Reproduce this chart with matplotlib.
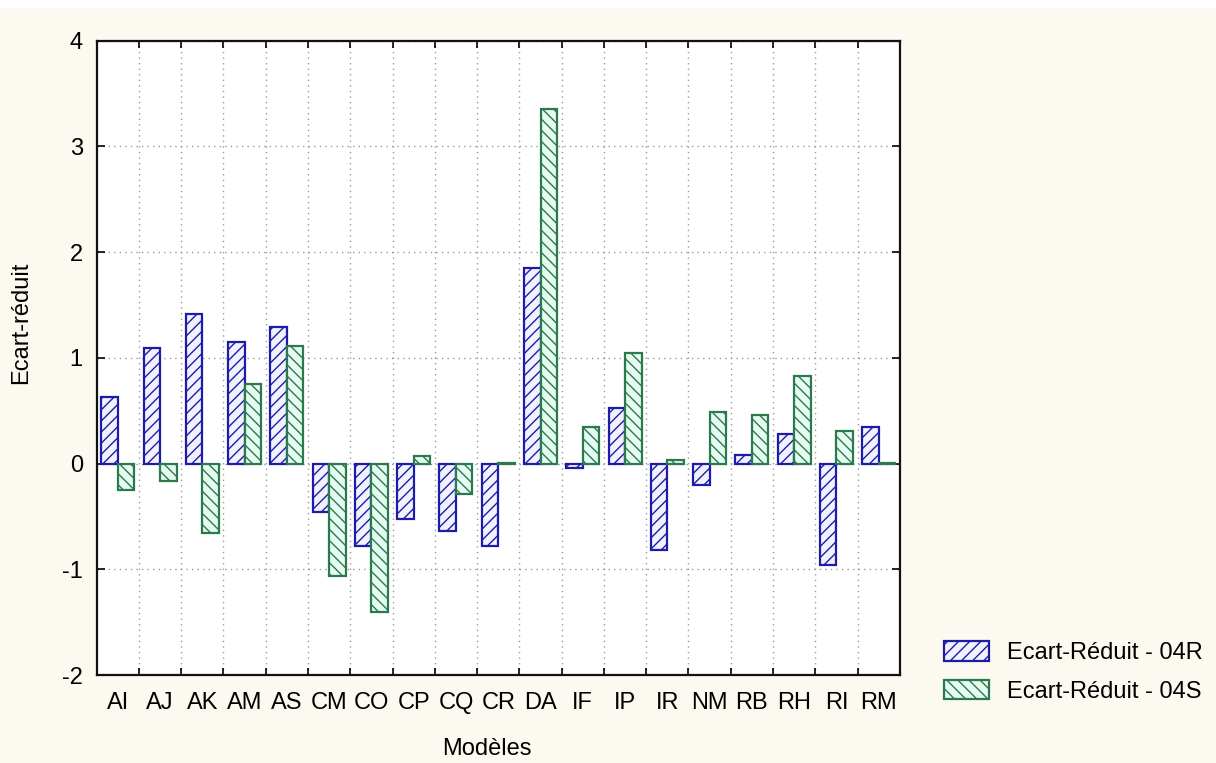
import matplotlib
matplotlib.use("Agg")
import matplotlib.pyplot as plt
from matplotlib.patches import Patch
import numpy as np

# Model codes on the x axis
models = ["AI", "AJ", "AK", "AM", "AS", "CM", "CO", "CP", "CQ", "CR",
          "DA", "IF", "IP", "IR", "NM", "RB", "RH", "RI", "RM"]

# Standardized deviation per model, two series
ecart_04R = [0.63, 1.09, 1.41, 1.15, 1.29, -0.46, -0.78, -0.52, -0.64, -0.78,
             1.85, -0.04, 0.53, -0.82, -0.20, 0.08, 0.28, -0.96, 0.35]
ecart_04S = [-0.25, -0.165, -0.66, 0.75, 1.11, -1.06, -1.40, 0.07, -0.29, 0.005,
             3.35, 0.35, 1.05, 0.03, 0.49, 0.46, 0.83, 0.31, 0.01]

series_labels = ["Ecart-Réduit - 04R", "Ecart-Réduit - 04S"]
y_ticks = [-2, -1, 0, 1, 2, 3, 4]

plt.rcParams["font.family"] = ["Liberation Sans", "DejaVu Sans"]
plt.rcParams["hatch.linewidth"] = 1.0

BG = "#fcf9f1"
BLUE = "#1c1ca8"
GREEN = "#2a7a4e"
BLUE_FILL = "#f2f2ff"
GREEN_FILL = "#e6fbf1"

fig = plt.figure(figsize=(12.16, 7.63), dpi=100, facecolor=BG)
# thin white strip along the top edge
fig.patches.append(plt.Rectangle((0, 1 - 8 / 763), 1, 8 / 763, transform=fig.transFigure,
                                 facecolor="white", edgecolor="none", zorder=0))

ax = fig.add_axes([0.0795, 0.1153, 0.6605, 0.8314])
ax.set_facecolor("white")

x = np.arange(len(models))
w = 0.39
ax.bar(x - w / 2, ecart_04R, width=w, facecolor=BLUE_FILL, edgecolor=BLUE,
       hatch="///", linewidth=1.6, zorder=3)
ax.bar(x + w / 2, ecart_04S, width=w, facecolor=GREEN_FILL, edgecolor=GREEN,
       hatch="\\\\\\", linewidth=1.6, zorder=3)

ax.set_xlim(-0.5, len(models) - 0.5)
ax.set_ylim(-2, 4)
ax.set_yticks(y_ticks)
ax.set_yticklabels([str(v) for v in y_ticks])

# category labels at bar groups, ticks and grid at group boundaries
ax.set_xticks(x)
ax.set_xticklabels(models)
ax.set_xticks(np.arange(len(models) - 1) + 0.5, minor=True)
ax.tick_params(axis="x", which="major", length=0, pad=12, labelsize=17)
ax.tick_params(axis="x", which="minor", direction="in", length=5, width=1.2,
               top=True, bottom=True)
ax.tick_params(axis="y", which="major", direction="in", length=6, width=1.2,
               left=True, right=True, pad=10, labelsize=17)

ax.grid(True, axis="y", which="major", linestyle=(0, (1, 3)), color="#9a9a9a",
        linewidth=1.0, zorder=1)
ax.grid(True, axis="x", which="minor", linestyle=(0, (1, 3)), color="#9a9a9a",
        linewidth=1.0, zorder=1)

for s in ax.spines.values():
    s.set_linewidth(1.6)
    s.set_color("#111111")

ax.set_xlabel("Modèles", fontsize=17)
ax.xaxis.set_label_coords(0.486, -0.099)
ax.set_ylabel("Ecart-réduit", fontsize=17)
ax.yaxis.set_label_coords(-0.080, 0.555)

handles = [Patch(facecolor=BLUE_FILL, edgecolor=BLUE, hatch="///", linewidth=1.6),
           Patch(facecolor=GREEN_FILL, edgecolor=GREEN, hatch="\\\\\\", linewidth=1.6)]
fig.legend(handles, series_labels, loc="center left",
           bbox_to_anchor=(932 / 1216, 1 - 672 / 763), frameon=False, borderpad=0,
           fontsize=17, handlelength=1.9, handleheight=0.9, handletextpad=0.76,
           labelspacing=0.65)

fig.savefig("out.png", dpi=100, facecolor=BG)
